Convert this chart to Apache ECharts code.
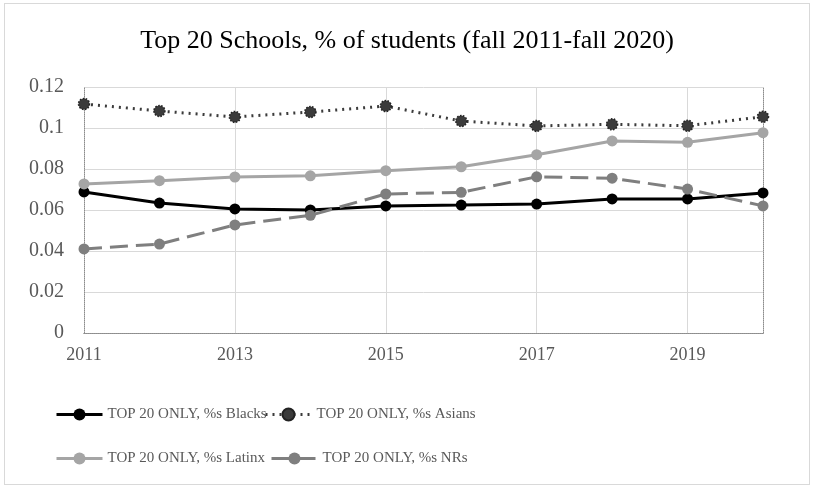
<!DOCTYPE html>
<html><head><meta charset="utf-8">
<script src="https://cdn.jsdelivr.net/npm/echarts@6/dist/echarts.min.js"></script>
<style>html,body{margin:0;padding:0;background:#fff}#c{position:absolute;left:0;top:0;width:814px;height:490px}#f{position:absolute;left:4px;top:3px;width:806px;height:482px;border:1px solid #d9d9d9;box-sizing:border-box;pointer-events:none}</style>
</head><body><div id="c"></div><div id="f"></div>
<script>
const years = ['2011','2012','2013','2014','2015','2016','2017','2018','2019','2020'];
const blacks = [0.0688,0.0634,0.0605,0.0600,0.0620,0.0624,0.0629,0.0654,0.0654,0.0683];
const asians = [0.1117,0.1083,0.1054,0.1078,0.1107,0.1034,0.1010,0.1018,0.1011,0.1055];
const latinx = [0.0727,0.0743,0.0761,0.0767,0.0792,0.0811,0.0870,0.0937,0.0930,0.0977];
const nrs = [0.0410,0.0434,0.0527,0.0574,0.0678,0.0686,0.0762,0.0755,0.0702,0.0620];
const names = ['TOP 20 ONLY, %s Blacks','TOP 20 ONLY, %s Asians','TOP 20 ONLY, %s Latinx','TOP 20 ONLY, %s NRs'];
const FONT = 'Liberation Serif';
const chart = echarts.init(document.getElementById('c'));
const dotted = {show:true, lineStyle:{color:'#8c8c8c', type:'dotted', width:1}};
function mk(name, data, color, type, border){
  return {name, type:'line', data, xAxisIndex:0, yAxisIndex:0, symbol:'circle', symbolSize:11,
    lineStyle:{color, width:3, type}, itemStyle:{color, borderColor:border||color, borderWidth: border?1.5:0, borderType: border?'dotted':'solid'},
    emphasis:{disabled:true}, z:3};
}
function lg(name, left, top){
  return {data:[name], left, top, itemWidth:46, itemHeight:15, itemGap:0, lineStyle:{width:3}, textStyle:{fontFamily:FONT, fontSize:15, color:'#595959'}, padding:0, selectedMode:false};
}
chart.setOption({
  animation:false,
  title:{text:'Top 20 Schools, % of students (fall 2011-fall 2020)', left:'center', top:23, textStyle:{fontFamily:FONT, fontSize:26, fontWeight:'normal', color:'#000'}},
  grid:{left:84, right:51, top:87, bottom:157, containLabel:false},
  legend:[lg(names[0],55,407), lg(names[1],264,407), lg(names[2],55,451), lg(names[3],270,451)],
  xAxis:[{type:'category', data:years, boundaryGap:false, axisLine:dotted, axisTick:{show:false},
    axisLabel:{interval:1, fontFamily:FONT, fontSize:18, color:'#595959', margin:13},
    splitLine:{show:true, interval:function(i){return i%2===0 && i>0;}, lineStyle:{color:'#d9d9d9', width:1}}},
    {type:'category', data:years, boundaryGap:false, position:'top', axisLine:dotted, axisTick:{show:false}, axisLabel:{show:false}}],
  yAxis:[{type:'value', min:0, max:0.12, interval:0.02, axisLine:dotted, axisTick:{show:false},
    axisLabel:{fontFamily:FONT, fontSize:20, color:'#595959', margin:20, formatter:function(v){return String(Math.round(v*100)/100);}},
    splitLine:{lineStyle:{color:'#d9d9d9', width:1}}},
    {type:'value', min:0, max:0.12, interval:0.02, position:'right', axisLine:dotted, axisTick:{show:false}, axisLabel:{show:false}, splitLine:{show:false}}],
  series:[
    mk(names[0], blacks, '#000000', 'solid'),
    mk(names[1], asians, '#3b3b3b', [2,5], '#222'),
    mk(names[2], latinx, '#a5a5a5', 'solid'),
    mk(names[3], nrs, '#7f7f7f', [18,8])
  ]
});
</script></body></html>
